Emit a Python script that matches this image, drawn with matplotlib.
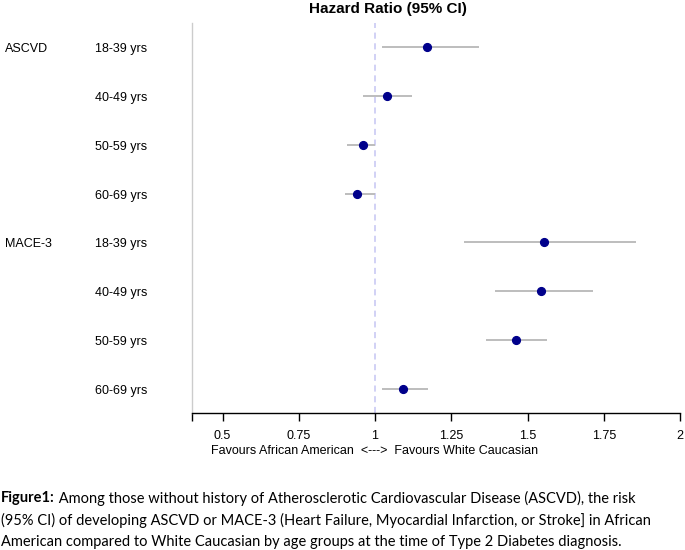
import numpy as np
import matplotlib
matplotlib.use("Agg")
import matplotlib.pyplot as plt

# values
outcomes = ["ASCVD", "", "", "", "MACE-3", "", "", ""]
ages = ["18-39 yrs", "40-49 yrs", "50-59 yrs", "60-69 yrs",
        "18-39 yrs", "40-49 yrs", "50-59 yrs", "60-69 yrs"]
hr = [1.17, 1.04, 0.96, 0.94, 1.555, 1.545, 1.463, 1.091]
lower = [1.022, 0.96, 0.909, 0.90, 1.293, 1.393, 1.363, 1.022]
upper = [1.342, 1.122, 1.0, 1.0, 1.855, 1.715, 1.565, 1.173]
xticks = [0.5, 0.75, 1, 1.25, 1.5, 1.75, 2]
xticklabels = ["0.5", "0.75", "1", "1.25", "1.5", "1.75", "2"]

caption_bold = "Figure1:"
caption_lines = [
    " Among those without history of Atherosclerotic Cardiovascular Disease (ASCVD), the risk",
    "(95% CI) of developing ASCVD or MACE-3 (Heart Failure, Myocardial Infarction, or Stroke] in African",
    "American compared to White Caucasian by age groups at the time of Type 2 Diabetes diagnosis.",
]

plt.rcParams['font.family'] = ['Liberation Sans', 'DejaVu Sans']

W, H = 685, 550
fig = plt.figure(figsize=(W / 100, H / 100), dpi=100)
ax = fig.add_axes([192 / W, 1 - 413 / H, (680 - 192) / W, (413 - 23) / H])

rows = np.arange(1, len(hr) + 1)
ax.hlines(rows, lower, upper, color="#bdbdbd", linewidth=1.4, zorder=2)
ax.plot(hr, rows, "o", color="#00008b", markersize=5.6, zorder=3)
ax.axvline(1, color="#c5c5f2", linestyle=(0, (4, 3)), linewidth=1.1, zorder=1)

ax.set_xlim(0.4, 2.0)
ax.set_ylim(len(hr) + 0.5, 0.5)
ax.set_yticks([])
ax.set_xticks([0.4] + xticks)
ax.set_xticklabels([""] + xticklabels, fontsize=9)
ax.tick_params(axis="x", length=6, width=1, pad=6)
for s in ["top", "right"]:
    ax.spines[s].set_visible(False)
ax.spines["left"].set_color("#cccccc")
ax.spines["left"].set_linewidth(1)
ax.spines["bottom"].set_linewidth(1)

for r, o, a in zip(rows, outcomes, ages):
    y = 1 - (25 + (r - 0.5) * (390 / 8)) / H
    if o:
        fig.text(5 / W, y, o, fontsize=9, va="center", ha="left")
    fig.text(95 / W, y, a, fontsize=9, va="center", ha="left")

ax.text(1, -0.098, "Favours African American  <--->  Favours White Caucasian",
        transform=ax.get_xaxis_transform(), ha="center", va="center", fontsize=9)

fig.text(388 / W, 1 - 9 / H, "Hazard Ratio (95% CI)", fontsize=11,
         fontweight="bold", ha="center", va="center")

cap_font = ['Lato', 'DejaVu Sans']
cap_size = 10.55
ys = [498, 520, 542]
b = fig.text(1 / W, 1 - ys[0] / H, caption_bold, family=cap_font, fontsize=cap_size,
             fontweight="bold", va="center", ha="left")
renderer = fig.canvas.get_renderer()
bw = b.get_window_extent(renderer=renderer).width
fig.text((1 + bw) / W, 1 - ys[0] / H, caption_lines[0], family=cap_font,
         fontsize=cap_size, va="center", ha="left")
for line, y in zip(caption_lines[1:], ys[1:]):
    fig.text(1 / W, 1 - y / H, line, family=cap_font, fontsize=cap_size,
             va="center", ha="left")

fig.savefig("out.png", dpi=100)
